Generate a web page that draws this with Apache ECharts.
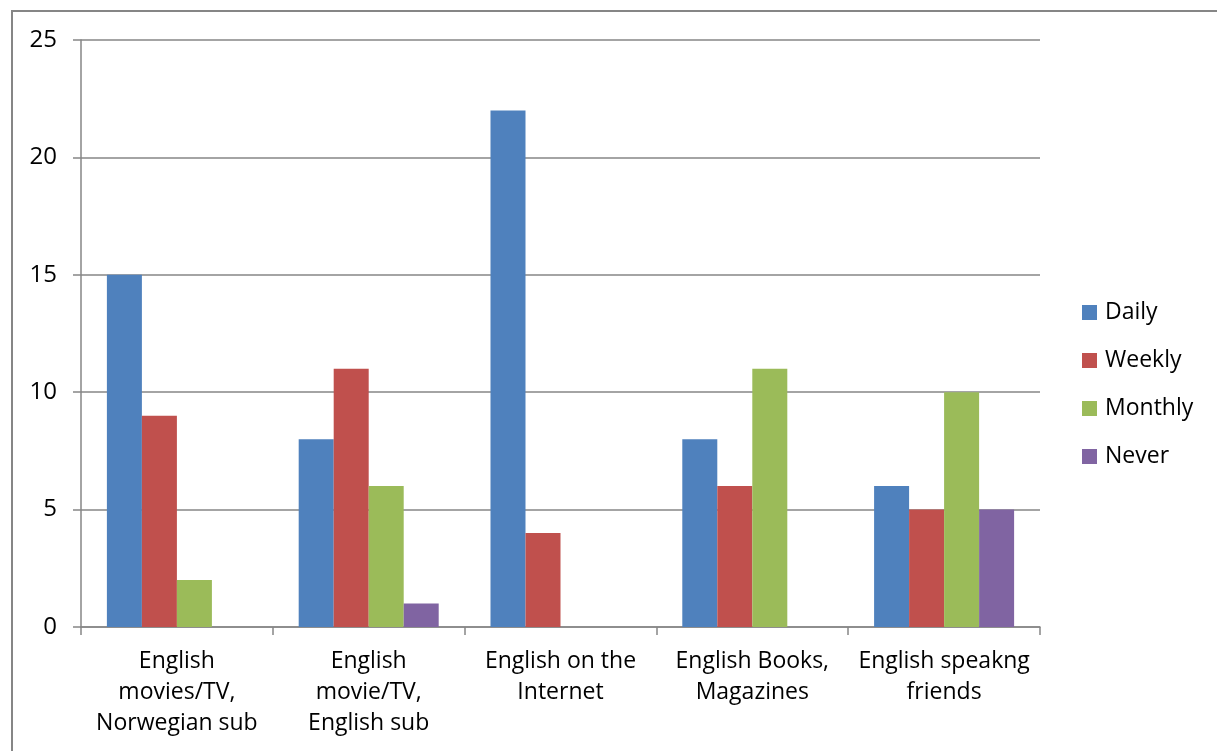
<!DOCTYPE html>
<html>
<head>
<meta charset="utf-8">
<script src="https://cdn.jsdelivr.net/npm/echarts@6/dist/echarts.min.js"></script>
<style>
  html, body { margin: 0; padding: 0; background: #fff; }
  #chart { width: 1217px; height: 751px; }
</style>
</head>
<body>
<div id="chart"></div>
<script>
// Media categories along the x axis
const categories = [
  'English\nmovies/TV,\nNorwegian sub',
  'English\nmovie/TV,\nEnglish sub',
  'English on the\nInternet',
  'English Books,\nMagazines',
  'English speakng\nfriends'
];

// Number of answers per frequency
const daily   = [15, 8, 22, 8, 6];
const weekly  = [9, 11, 4, 6, 5];
const monthly = [2, 6, 0, 11, 10];
const never   = [0, 1, 0, 0, 5];

const seriesNames = ['Daily', 'Weekly', 'Monthly', 'Never'];
const seriesData = [daily, weekly, monthly, never];
const colors = ['#4F81BD', '#C0504D', '#9BBB59', '#8064A2'];

const FONT = '"Open Sans", "Noto Sans", sans-serif';
const AXIS_GRAY = '#868686';

const chart = echarts.init(document.getElementById('chart'), null, { renderer: 'canvas' });

chart.setOption({
  animation: false,
  backgroundColor: '#ffffff',
  textStyle: { fontFamily: FONT },
  graphic: [{
    type: 'rect',
    shape: { x: 12, y: 11, width: 1400, height: 1000 },
    style: { fill: 'none', stroke: AXIS_GRAY, lineWidth: 2 },
    silent: true,
    z: 0
  }],
  grid: { left: 81, right: 177, top: 40, bottom: 124, containLabel: false },
  legend: {
    orient: 'vertical',
    left: 1082,
    top: 301,
    padding: 0,
    itemWidth: 15,
    itemHeight: 15,
    itemGap: 25,
    icon: 'rect',
    data: seriesNames,
    textStyle: { fontFamily: FONT, fontSize: 23, color: '#000', lineHeight: 23, padding: [0, 0, 0, 3] }
  },
  xAxis: {
    type: 'category',
    data: categories,
    axisLine: { show: true, lineStyle: { color: AXIS_GRAY, width: 1.5 } },
    axisTick: { show: true, length: 8, inside: false, lineStyle: { color: AXIS_GRAY, width: 1.5 } },
    axisLabel: {
      color: '#000',
      fontFamily: FONT,
      fontSize: 23,
      lineHeight: 31,
      margin: 19,
      interval: 0
    }
  },
  yAxis: {
    type: 'value',
    min: 0,
    max: 25,
    interval: 5,
    axisLine: { show: true, lineStyle: { color: AXIS_GRAY, width: 1.5 } },
    axisTick: { show: true, length: 8, inside: false, lineStyle: { color: AXIS_GRAY, width: 1.5 } },
    splitLine: { show: true, lineStyle: { color: AXIS_GRAY, width: 1.5 } },
    axisLabel: {
      color: '#000',
      fontFamily: FONT,
      fontSize: 24,
      margin: 24
    }
  },
  series: seriesNames.map((name, i) => ({
    name: name,
    type: 'bar',
    data: seriesData[i],
    barGap: '0%',
    barCategoryGap: '27%',
    itemStyle: { color: colors[i] }
  }))
});
</script>
</body>
</html>
